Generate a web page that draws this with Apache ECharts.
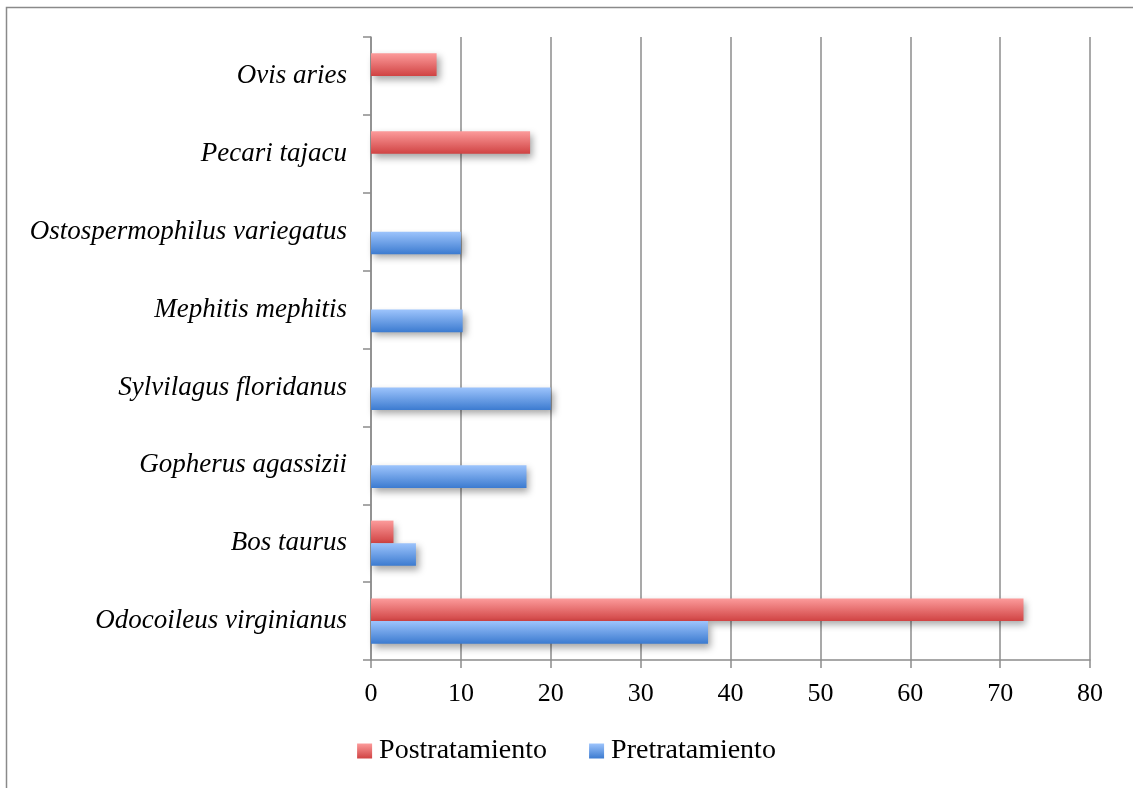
<!DOCTYPE html>
<html>
<head>
<meta charset="utf-8">
<script src="https://cdn.jsdelivr.net/npm/echarts@6/dist/echarts.min.js"></script>
<style>
  html, body { margin: 0; padding: 0; background: #fff; }
  #chart { width: 1133px; height: 788px; }
</style>
</head>
<body>
<div id="chart"></div>
<script>
// Species, listed bottom to top on the category axis
const species = [
  'Odocoileus virginianus',
  'Bos taurus',
  'Gopherus agassizii',
  'Sylvilagus floridanus',
  'Mephitis mephitis',
  'Ostospermophilus variegatus',
  'Pecari tajacu',
  'Ovis aries'
];
// Values per species (null = no record)
const postratamiento = [72.6, 2.5, null, null, null, null, 17.7, 7.3];
const pretratamiento = [37.5, 5.0, 17.3, 20.0, 10.2, 10.0, null, null];
const xTicks = { min: 0, max: 80, interval: 10 };

const FONT = '"Liberation Serif", "DejaVu Serif", serif';
const GRID_COLOR = '#8c8c8c';

function vGradient(top, bottom) {
  return new echarts.graphic.LinearGradient(0, 0, 0, 1, [
    { offset: 0, color: top },
    { offset: 1, color: bottom }
  ]);
}
const redFill = vGradient('#fc9b9b', '#d04343');
const blueFill = vGradient('#9dc4fc', '#3c7bd0');

const barShadow = {
  shadowColor: 'rgba(0,0,0,0.35)',
  shadowBlur: 7,
  shadowOffsetX: 3,
  shadowOffsetY: 4
};

const chart = echarts.init(document.getElementById('chart'), null, { renderer: 'canvas' });
chart.setOption({
  animation: false,
  backgroundColor: '#ffffff',
  graphic: [{
    type: 'rect',
    shape: { x: 6.5, y: 7.5, width: 1200, height: 1000 },
    style: { fill: 'none', stroke: '#8a8a8a', lineWidth: 1.5 },
    silent: true,
    z: -10
  }],
  grid: { left: 371, right: 43, top: 37, bottom: 128, containLabel: false },
  legend: {
    bottom: 18,
    left: 'center',
    itemWidth: 15,
    itemHeight: 15,
    itemGap: 42,
    icon: 'rect',
    itemStyle: { shadowBlur: 0, shadowOffsetX: 0, shadowOffsetY: 0 },
    textStyle: { fontFamily: FONT, fontSize: 28, color: '#000', padding: [0, 0, 0, 2] },
    data: ['Postratamiento', 'Pretratamiento']
  },
  xAxis: {
    type: 'value',
    min: xTicks.min,
    max: xTicks.max,
    interval: xTicks.interval,
    axisLine: { show: true, lineStyle: { color: GRID_COLOR, width: 1.5 } },
    axisTick: { show: true, length: 8, lineStyle: { color: GRID_COLOR, width: 1.5 } },
    splitLine: { show: true, lineStyle: { color: GRID_COLOR, width: 1.5 } },
    axisLabel: { fontFamily: FONT, fontSize: 26, color: '#000', margin: 21 }
  },
  yAxis: {
    type: 'category',
    data: species,
    axisLine: { show: true, lineStyle: { color: GRID_COLOR, width: 1.5 } },
    axisTick: { show: true, length: 8, lineStyle: { color: GRID_COLOR, width: 1.5 } },
    axisLabel: { fontFamily: FONT, fontStyle: 'italic', fontSize: 27, color: '#000', margin: 24 }
  },
  series: [
    {
      name: 'Postratamiento',
      type: 'bar',
      data: postratamiento,
      barGap: '0%',
      barCategoryGap: '42%',
      itemStyle: Object.assign({ color: redFill }, barShadow)
    },
    {
      name: 'Pretratamiento',
      type: 'bar',
      data: pretratamiento,
      barGap: '0%',
      barCategoryGap: '42%',
      itemStyle: Object.assign({ color: blueFill }, barShadow)
    }
  ]
});
</script>
</body>
</html>
